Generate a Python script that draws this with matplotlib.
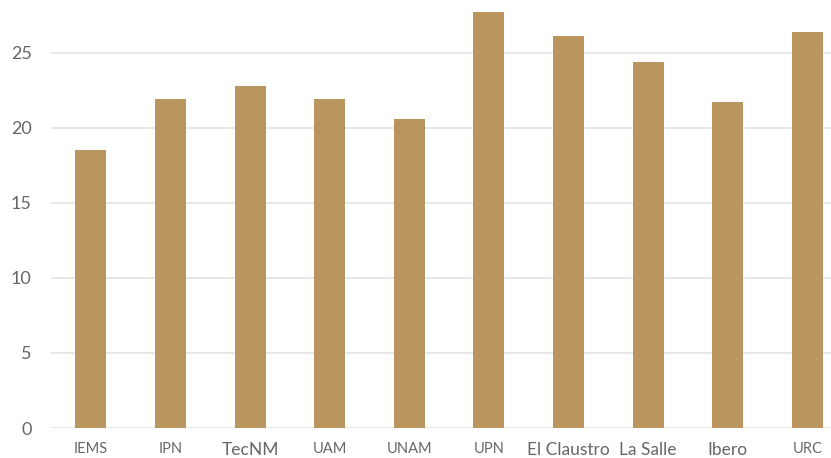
import matplotlib.pyplot as plt

categories = ["IEMS", "IPN", "TecNM", "UAM", "UNAM", "UPN",
              "El Claustro", "La Salle", "Ibero", "URC"]
values = [18.5, 21.9, 22.8, 21.9, 20.6, 27.7, 26.1, 24.4, 21.7, 26.4]
yticks = [0, 5, 10, 15, 20, 25]

plt.rcParams["font.family"] = ["Lato", "DejaVu Sans"]

fig = plt.figure(figsize=(8.31, 4.58), dpi=100)
ax = fig.add_axes([0.0615, 0.0655, 0.958, 0.9345])

ax.bar(range(len(categories)), values, width=0.39, color="#BB955E", zorder=2)

ax.set_xlim(-0.5, len(categories) - 0.5)
ax.set_ylim(0, 28.5)
ax.set_yticks(yticks)
ax.grid(axis="y", color="#e3e3e3", linewidth=1.2, zorder=0)
ax.set_axisbelow(True)

for s in ax.spines.values():
    s.set_visible(False)

ax.tick_params(axis="both", length=0, colors="#666666")
ax.tick_params(axis="y", labelsize=13, pad=14)
ax.set_xticks(range(len(categories)))
ax.set_xticklabels(categories)
for lab in ax.get_xticklabels():
    txt = lab.get_text()
    lab.set_fontsize(10.5 if txt.isupper() else 12.5)
    lab.set_color("#666666")
ax.tick_params(axis="x", pad=10)

fig.savefig("out.png", dpi=100)
